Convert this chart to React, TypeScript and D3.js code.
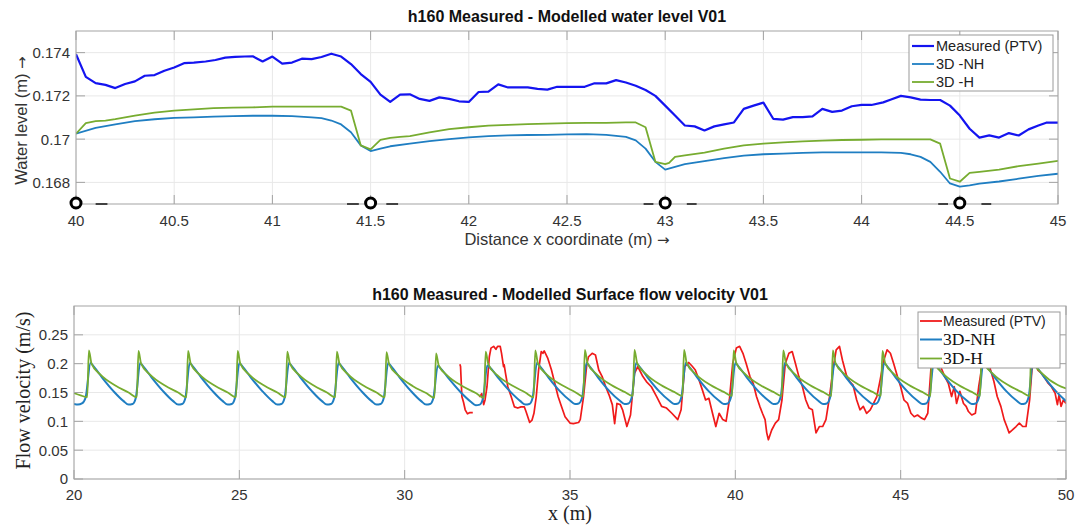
import React from 'react';
import * as d3 from 'd3';

// ---------------- Top panel: water level ----------------
const wlXTicks = [40, 40.5, 41, 41.5, 42, 42.5, 43, 43.5, 44, 44.5, 45];
const wlYTicks = [0.168, 0.17, 0.172, 0.174];

const wlMeasX = [40.00, 40.05, 40.10, 40.15, 40.20, 40.25, 40.30, 40.35, 40.40, 40.45,
  40.50, 40.55, 40.60, 40.66, 40.71, 40.76, 40.81, 40.86, 40.90, 40.95,
  41.00, 41.05, 41.10, 41.15, 41.20, 41.25, 41.30, 41.35, 41.40, 41.45,
  41.50, 41.55, 41.60, 41.65, 41.70, 41.75, 41.80, 41.85, 41.90, 41.95,
  42.00, 42.05, 42.10, 42.15, 42.20, 42.25, 42.30, 42.35, 42.40, 42.45,
  42.50, 42.59, 42.64, 42.70, 42.75, 42.80, 42.85, 42.90, 42.95, 43.00,
  43.05, 43.10, 43.15, 43.20, 43.25, 43.30, 43.35, 43.40, 43.45, 43.50,
  43.55, 43.60, 43.65, 43.70, 43.75, 43.80, 43.85, 43.90, 43.95, 44.00,
  44.05, 44.11, 44.15, 44.20, 44.25, 44.30, 44.35, 44.40, 44.45, 44.50,
  44.55, 44.60, 44.65, 44.70, 44.75, 44.80, 44.85, 44.90, 44.94, 45.00];
const wlMeas = [0.17393, 0.17288, 0.17259, 0.17251, 0.17236, 0.17255, 0.17267, 0.17293, 0.17296, 0.17316,
  0.17331, 0.17351, 0.17354, 0.17359, 0.17366, 0.17377, 0.17380, 0.17382, 0.17383, 0.17359,
  0.17382, 0.17349, 0.17354, 0.17372, 0.17370, 0.17380, 0.17395, 0.17382, 0.17347, 0.17301,
  0.17265, 0.17206, 0.17172, 0.17206, 0.17207, 0.17186, 0.17177, 0.17193, 0.17186, 0.17175,
  0.17172, 0.17218, 0.17220, 0.17253, 0.17239, 0.17239, 0.17239, 0.17232, 0.17229, 0.17242,
  0.17242, 0.17242, 0.17258, 0.17258, 0.17273, 0.17262, 0.17247, 0.17227, 0.17200, 0.17155,
  0.17109, 0.17063, 0.17059, 0.17040, 0.17059, 0.17068, 0.17077, 0.17140, 0.17155, 0.17169,
  0.17094, 0.17090, 0.17102, 0.17102, 0.17105, 0.17140, 0.17126, 0.17132, 0.17152, 0.17158,
  0.17158, 0.17170, 0.17183, 0.17200, 0.17193, 0.17183, 0.17181, 0.17181, 0.17155, 0.17109,
  0.17048, 0.17007, 0.17017, 0.17007, 0.17028, 0.17017, 0.17045, 0.17063, 0.17076, 0.17076];

const wlNHX = [40.0, 40.1, 40.2, 40.3, 40.4, 40.5, 40.6, 40.7, 40.8, 40.9,
  41.0, 41.1, 41.2, 41.25, 41.3, 41.35, 41.4, 41.45, 41.5, 41.55,
  41.6, 41.7, 41.8, 41.9, 42.0, 42.1, 42.2, 42.3, 42.4, 42.5,
  42.6, 42.7, 42.8, 42.85, 42.9, 42.95, 43.0, 43.05, 43.1, 43.2,
  43.3, 43.4, 43.5, 43.6, 43.7, 43.8, 43.9, 44.0, 44.1, 44.2,
  44.25, 44.3, 44.35, 44.4, 44.45, 44.5, 44.55, 44.6, 44.7, 44.8,
  44.9, 45.0];
const wlNH = [0.17025, 0.17052, 0.17068, 0.17083, 0.17092, 0.17098, 0.17101, 0.17104, 0.17106, 0.17108,
  0.17108, 0.17106, 0.17101, 0.17097, 0.17086, 0.17068, 0.17032, 0.16971, 0.16945, 0.16956,
  0.16967, 0.16979, 0.16991, 0.17000, 0.17008, 0.17014, 0.17017, 0.17019, 0.17020, 0.17022,
  0.17023, 0.17020, 0.17010, 0.16994, 0.16956, 0.16895, 0.16859, 0.16872, 0.16884, 0.16898,
  0.16912, 0.16924, 0.16930, 0.16933, 0.16936, 0.16939, 0.16939, 0.16939, 0.16939, 0.16936,
  0.16930, 0.16918, 0.16895, 0.16849, 0.16795, 0.16780, 0.16786, 0.16794, 0.16804, 0.16817,
  0.16830, 0.16840];

const wlHX = [40.0, 40.05, 40.1, 40.15, 40.2, 40.3, 40.4, 40.5, 40.6, 40.7,
  40.8, 40.9, 41.0, 41.1, 41.2, 41.3, 41.35, 41.4, 41.45, 41.5,
  41.55, 41.6, 41.65, 41.7, 41.8, 41.9, 42.0, 42.1, 42.2, 42.3,
  42.4, 42.5, 42.6, 42.7, 42.8, 42.85, 42.9, 42.95, 43.0, 43.02,
  43.05, 43.1, 43.2, 43.3, 43.4, 43.5, 43.6, 43.7, 43.8, 43.9,
  44.0, 44.1, 44.2, 44.3, 44.35, 44.4, 44.45, 44.5, 44.55, 44.6,
  44.7, 44.8, 44.9, 45.0];
const wlH = [0.17025, 0.17074, 0.17083, 0.17086, 0.17092, 0.17109, 0.17123, 0.17132, 0.17138, 0.17143,
  0.17146, 0.17147, 0.17150, 0.17150, 0.17150, 0.17150, 0.17150, 0.17132, 0.16971, 0.16953,
  0.16997, 0.17006, 0.17010, 0.17014, 0.17031, 0.17046, 0.17055, 0.17062, 0.17066, 0.17069,
  0.17072, 0.17074, 0.17075, 0.17075, 0.17077, 0.17077, 0.17055, 0.16895, 0.16884, 0.16890,
  0.16918, 0.16925, 0.16938, 0.16956, 0.16971, 0.16979, 0.16985, 0.16990, 0.16993, 0.16996,
  0.16997, 0.16999, 0.16999, 0.16999, 0.16999, 0.16979, 0.16818, 0.16803, 0.16844, 0.16849,
  0.16859, 0.16875, 0.16887, 0.16899];

// gauge markers along the bottom of the top panel
const gaugeX = [40, 41.5, 43, 44.5];
const gaugeDashStart = [40.10, 41.38, 41.58, 42.89, 43.11, 44.39, 44.61];
const gaugeDashEnd = [40.16, 41.44, 41.64, 42.94, 43.16, 44.44, 44.66];

// ---------------- Bottom panel: surface flow velocity ----------------
const velXTicks = [20, 25, 30, 35, 40, 45, 50];
const velYTicks = [0, 0.05, 0.1, 0.15, 0.2, 0.25];

const velHX = [20.00, 20.20, 20.40,
  20.45, 20.53, 20.80, 21.25, 21.65, 21.90,
  21.95, 22.03, 22.30, 22.75, 23.15, 23.40,
  23.45, 23.53, 23.80, 24.25, 24.65, 24.90,
  24.95, 25.03, 25.30, 25.75, 26.15, 26.40,
  26.45, 26.53, 26.80, 27.25, 27.65, 27.90,
  27.95, 28.03, 28.30, 28.75, 29.15, 29.40,
  29.45, 29.53, 29.80, 30.25, 30.65, 30.90,
  30.95, 31.03, 31.30, 31.75, 32.15, 32.40,
  32.45, 32.53, 32.80, 33.25, 33.65, 33.90,
  33.95, 34.03, 34.30, 34.75, 35.15, 35.40,
  35.45, 35.53, 35.80, 36.25, 36.65, 36.90,
  36.95, 37.03, 37.30, 37.75, 38.15, 38.40,
  38.45, 38.53, 38.80, 39.25, 39.65, 39.90,
  39.95, 40.03, 40.30, 40.75, 41.15, 41.40,
  41.45, 41.53, 41.80, 42.25, 42.65, 42.90,
  42.95, 43.03, 43.30, 43.75, 44.15, 44.40,
  44.45, 44.53, 44.80, 45.25, 45.65, 45.90,
  45.95, 46.03, 46.30, 46.75, 47.15, 47.40,
  47.45, 47.53, 47.80, 48.25, 48.65, 48.90,
  48.95, 49.03, 49.30, 49.75, 50.00];
const velH = [0.149, 0.145, 0.142,
  0.223, 0.200, 0.181, 0.162, 0.150, 0.142,
  0.222, 0.200, 0.181, 0.162, 0.150, 0.142,
  0.222, 0.200, 0.181, 0.162, 0.150, 0.142,
  0.222, 0.200, 0.181, 0.162, 0.150, 0.142,
  0.221, 0.200, 0.181, 0.162, 0.150, 0.142,
  0.221, 0.200, 0.181, 0.162, 0.150, 0.142,
  0.220, 0.199, 0.180, 0.161, 0.149, 0.141,
  0.218, 0.197, 0.179, 0.161, 0.149, 0.141,
  0.221, 0.199, 0.180, 0.162, 0.150, 0.142,
  0.223, 0.200, 0.181, 0.163, 0.151, 0.143,
  0.224, 0.201, 0.182, 0.163, 0.151, 0.144,
  0.224, 0.201, 0.182, 0.163, 0.151, 0.144,
  0.224, 0.201, 0.182, 0.163, 0.151, 0.144,
  0.223, 0.201, 0.182, 0.163, 0.151, 0.144,
  0.223, 0.201, 0.182, 0.163, 0.151, 0.144,
  0.223, 0.201, 0.182, 0.163, 0.151, 0.144,
  0.222, 0.201, 0.182, 0.163, 0.151, 0.144,
  0.222, 0.201, 0.182, 0.163, 0.151, 0.144,
  0.222, 0.201, 0.182, 0.163, 0.151, 0.144,
  0.222, 0.201, 0.182, 0.163, 0.157];

const velNHX = [20.00, 20.12, 20.24, 20.35,
  20.50, 20.60, 20.85, 21.20, 21.50, 21.65, 21.77, 21.87,
  22.00, 22.10, 22.35, 22.70, 23.00, 23.15, 23.27, 23.37,
  23.50, 23.60, 23.85, 24.20, 24.50, 24.65, 24.77, 24.87,
  25.00, 25.10, 25.35, 25.70, 26.00, 26.15, 26.27, 26.37,
  26.50, 26.60, 26.85, 27.20, 27.50, 27.65, 27.77, 27.87,
  28.00, 28.10, 28.35, 28.70, 29.00, 29.15, 29.27, 29.37,
  29.50, 29.60, 29.85, 30.20, 30.50, 30.65, 30.77, 30.87,
  31.00, 31.10, 31.35, 31.70, 32.00, 32.15, 32.27, 32.37,
  32.50, 32.60, 32.85, 33.20, 33.50, 33.65, 33.77, 33.87,
  34.00, 34.10, 34.35, 34.70, 35.00, 35.15, 35.27, 35.37,
  35.50, 35.60, 35.85, 36.20, 36.50, 36.65, 36.77, 36.87,
  37.00, 37.10, 37.35, 37.70, 38.00, 38.15, 38.27, 38.37,
  38.50, 38.60, 38.85, 39.20, 39.50, 39.65, 39.77, 39.87,
  40.00, 40.10, 40.35, 40.70, 41.00, 41.15, 41.27, 41.37,
  41.50, 41.60, 41.85, 42.20, 42.50, 42.65, 42.77, 42.87,
  43.00, 43.10, 43.35, 43.70, 44.00, 44.15, 44.27, 44.37,
  44.50, 44.60, 44.85, 45.20, 45.50, 45.65, 45.77, 45.87,
  46.00, 46.10, 46.35, 46.70, 47.00, 47.15, 47.27, 47.37,
  47.50, 47.60, 47.85, 48.20, 48.50, 48.65, 48.77, 48.87,
  49.00, 49.10, 49.35, 49.70, 50.00];
const velNH = [0.130, 0.129, 0.131, 0.141,
  0.201, 0.195, 0.176, 0.152, 0.135, 0.129, 0.130, 0.141,
  0.201, 0.195, 0.176, 0.152, 0.135, 0.129, 0.130, 0.141,
  0.201, 0.195, 0.176, 0.152, 0.135, 0.129, 0.130, 0.141,
  0.201, 0.195, 0.176, 0.152, 0.135, 0.129, 0.130, 0.141,
  0.201, 0.195, 0.176, 0.152, 0.135, 0.129, 0.130, 0.141,
  0.201, 0.195, 0.176, 0.152, 0.135, 0.129, 0.130, 0.141,
  0.201, 0.195, 0.176, 0.152, 0.135, 0.129, 0.130, 0.141,
  0.196, 0.191, 0.173, 0.150, 0.134, 0.128, 0.129, 0.140,
  0.197, 0.192, 0.174, 0.151, 0.135, 0.129, 0.130, 0.141,
  0.201, 0.195, 0.176, 0.152, 0.136, 0.130, 0.131, 0.142,
  0.201, 0.195, 0.176, 0.152, 0.136, 0.130, 0.131, 0.142,
  0.201, 0.195, 0.176, 0.152, 0.136, 0.130, 0.131, 0.142,
  0.201, 0.195, 0.176, 0.152, 0.136, 0.130, 0.131, 0.142,
  0.201, 0.195, 0.176, 0.152, 0.136, 0.130, 0.131, 0.142,
  0.201, 0.195, 0.176, 0.152, 0.136, 0.130, 0.131, 0.142,
  0.201, 0.195, 0.176, 0.152, 0.136, 0.130, 0.131, 0.142,
  0.201, 0.195, 0.176, 0.152, 0.136, 0.130, 0.131, 0.142,
  0.201, 0.195, 0.176, 0.152, 0.136, 0.130, 0.131, 0.142,
  0.201, 0.195, 0.176, 0.152, 0.136, 0.130, 0.131, 0.142,
  0.201, 0.195, 0.176, 0.152, 0.135];

// measured PTV (null marks the gap in the record)
const velMeasX = [31.67, 31.69, 31.73, 31.78, 31.83, 31.90, 31.96, 32.06, 32.16,
  32.26, 32.33, 32.39, 32.43, 32.49, 32.56, 32.61, 32.69, 32.76, 32.81,
  32.89, 32.93, 32.99, 33.01, 33.05, 33.12, 33.22, 33.32, 33.42, 33.52,
  33.62, 33.67, 33.78, 33.85, 33.91, 33.98, 34.05, 34.13, 34.18, 34.22,
  34.33, 34.44, 34.54, 34.64, 34.74, 34.85, 35.00, 35.10, 35.26, 35.31,
  35.41, 35.51, 35.56, 35.67, 35.77, 35.87, 35.97, 36.08, 36.18, 36.28,
  36.35, 36.42, 36.52, 36.59, 36.72, 36.83, 36.95, 37.05, 37.13, 37.20,
  37.31, 37.46, 37.62, 37.77, 37.92, 38.08, 38.26, 38.36, 38.47, 38.59,
  38.69, 38.79, 38.90, 39.00, 39.10, 39.20, 39.31, 39.41, 39.51, 39.62,
  39.72, 39.82, 39.92, 40.03, 40.13, 40.23, 40.33, 40.44, 40.54, 40.64,
  40.74, 40.82, 40.90, 40.95, 41.00, 41.10, 41.21, 41.31, 41.41, 41.51,
  41.62, 41.72, 41.82, 41.92, 42.03, 42.13, 42.23, 42.33, 42.44, 42.54,
  42.64, 42.74, 42.85, 42.95, 43.05, 43.15, 43.24, 43.36, 43.46, 43.56,
  43.67, 43.77, 43.87, 43.97, 44.08, 44.18, 44.28, 44.38, 44.49, 44.59,
  44.69, 44.79, 44.90, 45.00, 45.10, 45.21, 45.31, 45.41, 45.51, 45.62,
  45.72, 45.82, 45.92, 46.02, 46.12, 46.23, 46.33, 46.44, 46.54, 46.62,
  46.69, 46.79, 46.90, 46.98, 47.05, 47.15, 47.26, 47.36, 47.44, 47.55,
  47.65, 47.72, 47.82, 47.92, 48.03, 48.13, 48.21, 48.28, 48.38, 48.49,
  48.59, 48.69, 48.79, 48.90, 48.97, 49.05, 49.15, 49.26, 49.36, 49.46,
  49.56, 49.67, 49.74, 49.79, 49.85, 49.92, 50.00];
const velMeas = [0.199, 0.195, 0.143, 0.133, 0.120, 0.113, 0.115, 0.115, null,
  0.142, 0.148, 0.129, 0.137, 0.160, 0.212, 0.227, 0.230, 0.225, 0.230,
  0.230, 0.218, 0.195, 0.198, 0.183, 0.160, 0.143, 0.125, 0.123, 0.125,
  0.125, 0.117, 0.098, 0.102, 0.114, 0.143, 0.189, 0.221, 0.218, 0.222,
  0.209, 0.189, 0.166, 0.143, 0.126, 0.108, 0.097, 0.096, 0.098, 0.103,
  0.143, 0.200, 0.212, 0.218, 0.215, 0.189, 0.178, 0.160, 0.146, 0.129,
  0.096, 0.131, 0.129, 0.120, 0.091, 0.111, 0.183, 0.195, 0.186, 0.178,
  0.169, 0.160, 0.143, 0.126, 0.123, 0.114, 0.103, 0.120, 0.195, 0.202,
  0.196, 0.189, 0.172, 0.155, 0.137, 0.140, 0.114, 0.091, 0.114, 0.103,
  0.100, 0.137, 0.200, 0.227, 0.230, 0.218, 0.200, 0.178, 0.166, 0.143,
  0.126, 0.114, 0.103, 0.080, 0.068, 0.085, 0.097, 0.103, 0.137, 0.200,
  0.218, 0.221, 0.200, 0.178, 0.160, 0.137, 0.123, 0.120, 0.080, 0.091,
  0.091, 0.103, 0.143, 0.189, 0.224, 0.230, 0.206, 0.180, 0.169, 0.163,
  0.137, 0.120, 0.126, 0.114, 0.120, 0.131, 0.143, 0.172, 0.206, 0.224,
  0.218, 0.200, 0.178, 0.160, 0.137, 0.131, 0.114, 0.108, 0.111, 0.106,
  0.103, 0.114, 0.195, 0.225, 0.215, 0.192, 0.178, 0.166, 0.143, 0.160,
  0.131, 0.152, 0.131, 0.126, 0.117, 0.111, 0.114, 0.160, 0.189, 0.220,
  0.205, 0.189, 0.169, 0.143, 0.126, 0.103, 0.091, 0.080, 0.085, 0.091,
  0.097, 0.091, 0.091, 0.137, 0.189, 0.215, 0.189, 0.183, 0.175, 0.166,
  0.160, 0.149, 0.129, 0.146, 0.126, 0.137, 0.131];

// ---------------- styling ----------------
const SANS = '"Liberation Sans", Arial, Helvetica, sans-serif';
const SERIF = '"Liberation Serif", "Times New Roman", serif';
const ARROWFONT = '"DejaVu Sans", sans-serif';
const AX = '#a3a3a3';
const GRID = '#e8e8e8';
const TXT = '#333333';
const C_MEAS_WL = '#1414f0';
const C_NH = '#1f7ec2';
const C_H = '#77ac30';
const C_RED = '#f01a1a';

type Pt = [number, number | null];
const zip = (xs: number[], ys: (number | null)[]): Pt[] =>
  xs.slice(0, Math.min(xs.length, ys.length)).map((x, i) => [x, ys[i]]);

function Grid({ x, y, xTicks, yTicks }: any) {
  const [L, R] = x.range();
  const [B, T] = y.range();
  return (
    <g>
      <rect x={L} y={T} width={R - L} height={B - T} fill="#ffffff" />
      {xTicks.map((t: number) => (
        <line key={'gx' + t} x1={x(t)} x2={x(t)} y1={T} y2={B} stroke={GRID} strokeWidth={1} />
      ))}
      {yTicks.map((t: number) => (
        <line key={'gy' + t} x1={L} x2={R} y1={y(t)} y2={y(t)} stroke={GRID} strokeWidth={1} />
      ))}
    </g>
  );
}

function Box({ x, y, xTicks, yTicks, fmtX, fmtY, xLabelY }: any) {
  const [L, R] = x.range();
  const [B, T] = y.range();
  const tl = 9;
  return (
    <g>
      <rect x={L} y={T} width={R - L} height={B - T} fill="none" stroke={AX} strokeWidth={1} />
      {xTicks.map((t: number) => (
        <g key={'tx' + t}>
          <line x1={x(t)} x2={x(t)} y1={B} y2={B - tl} stroke={AX} />
          <line x1={x(t)} x2={x(t)} y1={T} y2={T + tl} stroke={AX} />
          <text x={x(t)} y={xLabelY} textAnchor="middle" fontFamily={SANS} fontSize={15} fill={TXT}>
            {fmtX(t)}
          </text>
        </g>
      ))}
      {yTicks.map((t: number) => (
        <g key={'ty' + t}>
          <line x1={L} x2={L + tl} y1={y(t)} y2={y(t)} stroke={AX} />
          <line x1={R} x2={R - tl} y1={y(t)} y2={y(t)} stroke={AX} />
          <text x={L - 6} y={y(t)} dy="0.36em" textAnchor="end" fontFamily={SANS} fontSize={15} fill={TXT}>
            {fmtY(t)}
          </text>
        </g>
      ))}
    </g>
  );
}

function TopPanel() {
  const x = d3.scaleLinear().domain([40, 45]).range([76, 1058]);
  const y = d3.scaleLinear().domain([0.167, 0.175]).range([204, 31]);
  const line = d3
    .line<Pt>()
    .x((d) => x(d[0]))
    .y((d) => y(d[1] as number));
  const [L, R] = x.range();
  const [B, T] = y.range();
  const fmtX = (v: number) => String(v);
  const fmtY = (v: number) => String(+v.toFixed(3));
  const legend = [
    { label: 'Measured (PTV)', color: C_MEAS_WL, w: 2.2 },
    { label: '3D -NH', color: C_NH, w: 1.8 },
    { label: '3D -H', color: C_H, w: 1.8 },
  ];
  return (
    <g>
      <defs>
        <clipPath id="clipTop">
          <rect x={L} y={T - 1} width={R - L} height={B - T + 2} />
        </clipPath>
      </defs>
      <text x={(L + R) / 2} y={22} textAnchor="middle" fontFamily={SANS} fontWeight="bold" fontSize={16} fill="#111">
        h160 Measured - Modelled water level V01
      </text>
      <Grid x={x} y={y} xTicks={wlXTicks} yTicks={wlYTicks} />
      <g clipPath="url(#clipTop)" fill="none" strokeLinejoin="round">
        <path d={line(zip(wlNHX, wlNH)) || ''} stroke={C_NH} strokeWidth={1.8} />
        <path d={line(zip(wlHX, wlH)) || ''} stroke={C_H} strokeWidth={1.8} />
        <path d={line(zip(wlMeasX, wlMeas)) || ''} stroke={C_MEAS_WL} strokeWidth={2.2} />
      </g>
      <Box x={x} y={y} xTicks={wlXTicks} yTicks={wlYTicks} fmtX={fmtX} fmtY={fmtY} xLabelY={226} />
      {gaugeDashStart.map((s, i) => (
        <line key={'gd' + i} x1={x(s)} x2={x(gaugeDashEnd[i])} y1={B} y2={B} stroke="#111" strokeWidth={1.5} />
      ))}
      {gaugeX.map((g) => (
        <circle key={'gc' + g} cx={x(g)} cy={B - 1} r={5} fill="#fff" stroke="#000" strokeWidth={3} />
      ))}
      <text x={(L + R) / 2} y={245} textAnchor="middle" fontFamily={SANS} fontSize={16.5} fill={TXT}>
        Distance x coordinate (m) <tspan fontFamily={ARROWFONT} fontSize={15}>→</tspan>
      </text>
      <text
        transform={`translate(27,${(T + B) / 2 + 3}) rotate(-90)`}
        textAnchor="middle"
        fontFamily={SANS}
        fontSize={16.5}
        fill={TXT}
      >
        Water level (m) <tspan fontFamily={ARROWFONT} fontSize={15}>→</tspan>
      </text>
      <g>
        <rect x={909} y={35} width={144} height={56} fill="#fff" stroke="#9a9a9a" strokeWidth={1} />
        {legend.map((e, i) => (
          <g key={e.label}>
            <line x1={912} x2={934} y1={46 + i * 18} y2={46 + i * 18} stroke={e.color} strokeWidth={e.w} />
            <text x={936} y={46 + i * 18} dy="0.36em" fontFamily={SANS} fontSize={14.5} fill="#222">
              {e.label}
            </text>
          </g>
        ))}
      </g>
    </g>
  );
}

function BottomPanel() {
  const x = d3.scaleLinear().domain([20, 50]).range([74, 1066]);
  const y = d3.scaleLinear().domain([0, 0.3]).range([479, 306]);
  const smooth = d3
    .line<Pt>()
    .x((d) => x(d[0]))
    .y((d) => y(d[1] as number))
    .curve(d3.curveMonotoneX);
  const raw = d3
    .line<Pt>()
    .defined((d) => d[1] !== null)
    .x((d) => x(d[0]))
    .y((d) => y(d[1] as number));
  const [L, R] = x.range();
  const [B, T] = y.range();
  const fmtX = (v: number) => String(v);
  const fmtY = (v: number) => String(+v.toFixed(2));
  return (
    <g>
      <defs>
        <clipPath id="clipBot">
          <rect x={L} y={T} width={R - L} height={B - T} />
        </clipPath>
      </defs>
      <text x={(L + R) / 2} y={300} textAnchor="middle" fontFamily={SANS} fontWeight="bold" fontSize={16} fill="#111">
        h160 Measured - Modelled Surface flow velocity V01
      </text>
      <Grid x={x} y={y} xTicks={velXTicks} yTicks={velYTicks} />
      <g clipPath="url(#clipBot)" fill="none" strokeLinejoin="round">
        <path d={raw(zip(velMeasX, velMeas)) || ''} stroke={C_RED} strokeWidth={1.7} />
        <path d={smooth(zip(velNHX, velNH)) || ''} stroke={C_NH} strokeWidth={2} />
        <path d={smooth(zip(velHX, velH)) || ''} stroke={C_H} strokeWidth={1.8} />
      </g>
      <Box x={x} y={y} xTicks={velXTicks} yTicks={velYTicks} fmtX={fmtX} fmtY={fmtY} xLabelY={500} />
      <text x={(L + R) / 2} y={520} textAnchor="middle" fontFamily={SERIF} fontSize={20} fill="#222">
        x (m)
      </text>
      <text
        transform={`translate(30,${(T + B) / 2 - 2}) rotate(-90)`}
        textAnchor="middle"
        fontFamily={SERIF}
        fontSize={20}
        fill="#222"
      >
        Flow velocity (m/s)
      </text>
      <g>
        <rect x={918} y={312} width={142} height={56} fill="#fff" stroke="#9a9a9a" strokeWidth={1} />
        <line x1={920} x2={942} y1={321} y2={321} stroke={C_RED} strokeWidth={1.8} />
        <text x={943} y={321} dy="0.36em" fontFamily={SANS} fontSize={14} fill="#222">
          Measured (PTV)
        </text>
        <line x1={920} x2={942} y1={339.5} y2={339.5} stroke={C_NH} strokeWidth={2} />
        <text x={943} y={339.5} dy="0.34em" fontFamily={SERIF} fontSize={17.5} fill="#111">
          3D-NH
        </text>
        <line x1={920} x2={942} y1={358.5} y2={358.5} stroke={C_H} strokeWidth={1.8} />
        <text x={943} y={358.5} dy="0.34em" fontFamily={SERIF} fontSize={17.5} fill="#111">
          3D-H
        </text>
      </g>
    </g>
  );
}

export default function App() {
  return (
    <svg
      width={1088}
      height={526}
      viewBox="0 0 1088 526"
      style={{ position: 'fixed', left: 0, top: 0, display: 'block', background: '#fff' }}
    >
      <rect x={0} y={0} width={1088} height={526} fill="#fff" />
      <TopPanel />
      <BottomPanel />
    </svg>
  );
}
